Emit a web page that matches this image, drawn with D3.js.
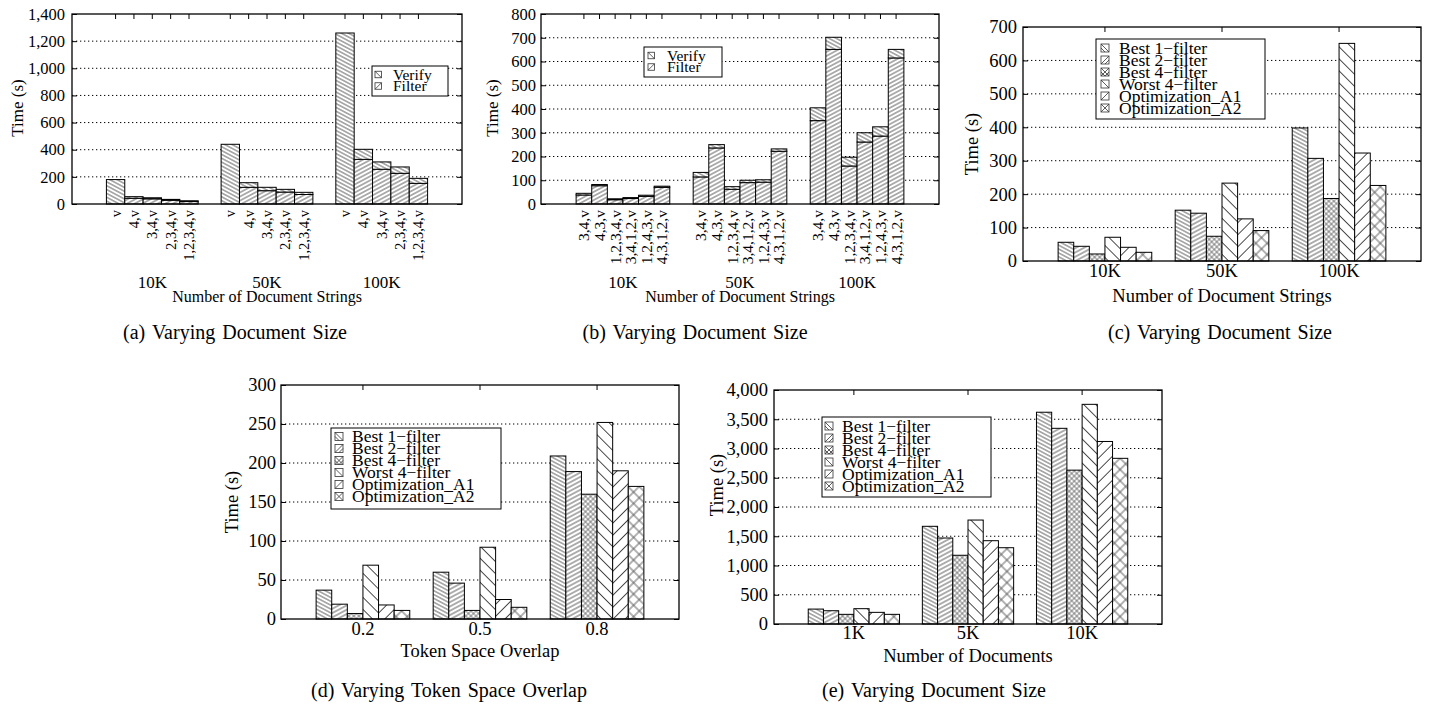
<!DOCTYPE html>
<html><head><meta charset="utf-8">
<script src="https://cdn.jsdelivr.net/npm/d3@7"></script>
<style>
body{margin:0;background:#fff}
svg text{font-family:"Liberation Serif","Times New Roman",serif;fill:#000}
</style>
</head><body>
<svg id="fig" width="1431" height="704"></svg>
<script>
// ---------------- DATA ----------------
// Panel (a)
const aGroups = ["10K", "50K", "100K"];
const aBars = ["v", "4,v", "3,4,v", "2,3,4,v", "1,2,3,4,v"];
const aFilter = [[0, 42, 38, 27, 18], [0, 123, 98, 88, 70], [0, 329, 256, 226, 152]];
const aVerify = [[180, 12, 8, 7, 6], [440, 34, 25, 20, 16], [1260, 74, 54, 47, 37]];
const aTicks = [0, 200, 400, 600, 800, 1000, 1200, 1400];
// Panel (b)
const bGroups = ["10K", "50K", "100K"];
const bBars = ["3,4,v", "4,3,v", "1,2,3,4,v", "3,4,1,2,v", "1,2,4,3,v", "4,3,1,2,v"];
const bFilter = [[38, 77, 18, 23, 32, 70], [114, 236, 62, 90, 92, 222], [351, 651, 160, 261, 286, 615]];
const bVerify = [[7, 5, 4, 4, 5, 5], [19, 14, 11, 10, 10, 10], [54, 51, 37, 39, 39, 36]];
const bTicks = [0, 100, 200, 300, 400, 500, 600, 700, 800];
const stackNames = ["Verify", "Filter"];
// Panels (c)-(e)
const seriesNames = ["Best 1\u2212filter", "Best 2\u2212filter", "Best 4\u2212filter", "Worst 4\u2212filter", "Optimization_A1", "Optimization_A2"];
const cGroups = ["10K", "50K", "100K"];
const cValues = [
  [56, 152, 398],   // Best 1-filter
  [44, 143, 307],   // Best 2-filter
  [21, 74, 187],    // Best 4-filter
  [71, 233, 651],   // Worst 4-filter
  [41, 126, 323],   // Optimization_A1
  [26, 91, 226]     // Optimization_A2
];
const cTicks = [0, 100, 200, 300, 400, 500, 600, 700];
const dGroups = ["0.2", "0.5", "0.8"];
const dValues = [
  [37, 60, 209],
  [19, 46, 189],
  [7, 11, 160],
  [69, 92, 252],
  [18, 25, 190],
  [11, 15, 170]
];
const dTicks = [0, 50, 100, 150, 200, 250, 300];
const eGroups = ["1K", "5K", "10K"];
const eValues = [
  [255, 1670, 3620],
  [227, 1470, 3345],
  [165, 1175, 2630],
  [262, 1777, 3755],
  [199, 1424, 3120],
  [165, 1304, 2832]
];
const eTicks = [0, 500, 1000, 1500, 2000, 2500, 3000, 3500, 4000];

// ---------------- PATTERNS ----------------
const svg = d3.select("#fig");
const defs = svg.append("defs");
function linePattern(id, angle, spacing, color, w) {
  const p = defs.append("pattern").attr("id", id).attr("patternUnits", "userSpaceOnUse")
    .attr("width", 10).attr("height", spacing).attr("patternTransform", `rotate(${angle})`);
  p.append("rect").attr("width", 10).attr("height", spacing).attr("fill", "#fff");
  p.append("line").attr("x1", 0).attr("x2", 10).attr("y1", spacing / 2).attr("y2", spacing / 2)
    .attr("stroke", color).attr("stroke-width", w);
}
function crossPattern(id, spacing, color, w) {
  const p = defs.append("pattern").attr("id", id).attr("patternUnits", "userSpaceOnUse")
    .attr("width", spacing).attr("height", spacing).attr("patternTransform", "rotate(45)");
  p.append("rect").attr("width", spacing).attr("height", spacing).attr("fill", "#fff");
  p.append("line").attr("x1", 0).attr("x2", spacing).attr("y1", spacing / 2).attr("y2", spacing / 2)
    .attr("stroke", color).attr("stroke-width", w);
  p.append("line").attr("y1", 0).attr("y2", spacing).attr("x1", spacing / 2).attr("x2", spacing / 2)
    .attr("stroke", color).attr("stroke-width", w);
}
linePattern("pVerify", 28, 3.4, "#333", 0.8);
linePattern("pFilter", -28, 3.6, "#333", 0.8);
linePattern("p0", 28, 3.4, "#333", 0.8);
linePattern("p1", -28, 3.8, "#333", 0.8);
crossPattern("p2", 3.6, "#555", 0.7);
linePattern("p3", 45, 8.5, "#333", 0.9);
linePattern("p4", -45, 8.5, "#333", 0.9);
crossPattern("p5", 8, "#555", 0.9);
const seriesPat = ["url(#p0)", "url(#p1)", "url(#p2)", "url(#p3)", "url(#p4)", "url(#p5)"];
const stackPat = ["url(#pVerify)", "url(#pFilter)"];
// legend swatch glyph kinds: b = "\", f = "/", x = cross; dense adds an extra line
const seriesSw = [{ k: "b", d: 1 }, { k: "f", d: 1 }, { k: "x", d: 1 }, { k: "b", d: 0 }, { k: "f", d: 0 }, { k: "x", d: 0 }];
const stackSw = [{ k: "b", d: 0 }, { k: "f", d: 0 }];

// ---------------- HELPERS ----------------
function frame(g, c, y, ticks, fmt) {
  g.append("g").selectAll("line").data(ticks.filter(v => v > 0 && v < ticks[ticks.length - 1])).join("line")
    .attr("x1", c.l).attr("x2", c.r).attr("y1", d => y(d)).attr("y2", d => y(d))
    .attr("stroke", "#000").attr("stroke-width", 1).attr("stroke-dasharray", "1.3,2.7");
  const la = g.append("g").attr("transform", `translate(${c.l},0)`)
    .call(d3.axisLeft(y).tickValues(ticks).tickFormat(fmt).tickSizeInner(-5).tickSizeOuter(0).tickPadding(c.pad));
  la.select(".domain").remove();
  la.attr("font-family", null);
  la.selectAll("text").style("font-size", c.tickFont + "px");
  const ra = g.append("g").attr("transform", `translate(${c.r},0)`)
    .call(d3.axisRight(y).tickValues(ticks).tickFormat("").tickSizeInner(-5).tickSizeOuter(0));
  ra.select(".domain").remove();
}
function finish(g, c) {
  g.append("rect").attr("x", c.l).attr("y", c.t).attr("width", c.r - c.l).attr("height", c.b - c.t)
    .attr("fill", "none").attr("stroke", "#000").attr("stroke-width", 1.3);
  g.append("text").attr("transform", `translate(${c.ylx},${c.yly}) rotate(-90)`)
    .attr("text-anchor", "middle").attr("dy", "0.35em").style("font-size", c.ylFont + "px").text("Time (s)");
  g.append("text").attr("x", c.xtx).attr("y", c.xty).attr("text-anchor", "middle")
    .style("font-size", c.xtFont + "px").text(c.xtitle);
  g.append("text").attr("x", c.capx).attr("y", c.capy).attr("text-anchor", "middle")
    .style("font-size", "20px").style("word-spacing", "2px").text(c.caption);
}
function swatch(g, x, y, s, sw) {
  g.append("rect").attr("x", x).attr("y", y).attr("width", s).attr("height", s)
    .attr("fill", "#fff").attr("stroke", "#333").attr("stroke-width", 0.8);
  const ln = (x1, y1, x2, y2) => g.append("line").attr("x1", x1).attr("y1", y1).attr("x2", x2).attr("y2", y2)
    .attr("stroke", "#333").attr("stroke-width", 0.8);
  if (sw.k === "b" || sw.k === "x") { ln(x, y, x + s, y + s); if (sw.d) ln(x, y + s / 2, x + s / 2, y + s); }
  if (sw.k === "f" || sw.k === "x") { ln(x, y + s, x + s, y); if (sw.d) ln(x + s / 2, y + s, x + s, y + s / 2); }
}
function legend(g, lg, names, sws) {
  g.append("rect").attr("x", lg.x0).attr("y", lg.y0).attr("width", lg.x1 - lg.x0).attr("height", lg.y1 - lg.y0)
    .attr("fill", "#fff").attr("stroke", "#000").attr("stroke-width", 1);
  names.forEach((n, i) => {
    const cy = lg.y0 + lg.first + lg.step * i;
    swatch(g, lg.sx, cy - lg.sw / 2, lg.sw, sws[i]);
    g.append("text").attr("x", lg.tx).attr("y", cy).attr("dy", "0.33em").style("font-size", lg.font + "px").text(n);
  });
}

// ---------------- STACKED PANELS (a),(b) ----------------
function stackedPanel(c, groups, bars, filter, verify, ticks, fmt) {
  const g = svg.append("g");
  const x = d3.scaleBand().domain(groups).range([c.l, c.r]).paddingInner(0.2).paddingOuter(0.3);
  const xb = d3.scaleBand().domain(bars).range([0, x.bandwidth()]);
  const y = d3.scaleLinear().domain([0, ticks[ticks.length - 1]]).range([c.b, c.t]);
  frame(g, c, y, ticks, fmt);
  const items = [];
  groups.forEach((gr, gi) => bars.forEach((br, bi) => items.push({ gr, br, f: filter[gi][bi], v: verify[gi][bi] })));
  const cx = d => x(d.gr) + xb(d.br) + xb.bandwidth() / 2;
  g.append("g").selectAll("line").data(items).join("line")
    .attr("x1", cx).attr("x2", cx).attr("y1", c.t).attr("y2", c.t + 5).attr("stroke", "#000");
  const bg = g.append("g");
  items.forEach(d => {
    const x0 = x(d.gr) + xb(d.br);
    if (d.f > 0) bg.append("rect").attr("x", x0).attr("width", xb.bandwidth())
      .attr("y", y(d.f)).attr("height", y(0) - y(d.f)).attr("fill", stackPat[1]).attr("stroke", "#000").attr("stroke-width", 1);
    if (d.v > 0) bg.append("rect").attr("x", x0).attr("width", xb.bandwidth())
      .attr("y", y(d.f + d.v)).attr("height", y(d.f) - y(d.f + d.v)).attr("fill", stackPat[0]).attr("stroke", "#000").attr("stroke-width", 1);
  });
  g.append("g").selectAll("text").data(items).join("text")
    .attr("transform", d => `translate(${cx(d)},${c.b + 6}) rotate(-90)`)
    .attr("text-anchor", "end").attr("dy", "0.35em").style("font-size", c.barFont + "px").text(d => d.br);
  g.append("g").selectAll("text").data(groups).join("text")
    .attr("x", d => x(d) + x.bandwidth() / 2).attr("y", c.grY).attr("text-anchor", "middle")
    .style("font-size", c.grFont + "px").text(d => d);
  legend(g, c.lg, stackNames, stackSw);
  finish(g, c);
}

// ---------------- CLUSTERED PANELS (c),(d),(e) ----------------
function clusterPanel(c, groups, values, ticks, fmt) {
  const g = svg.append("g");
  const x = d3.scaleBand().domain(groups).range([c.l, c.r]).paddingInner(0.2).paddingOuter(0.3);
  const xs = d3.scaleBand().domain(d3.range(seriesNames.length)).range([0, x.bandwidth()]);
  const y = d3.scaleLinear().domain([0, ticks[ticks.length - 1]]).range([c.b, c.t]);
  frame(g, c, y, ticks, fmt);
  const ta = g.append("g").attr("transform", `translate(0,${c.t})`)
    .call(d3.axisTop(x).tickFormat("").tickSizeInner(-5).tickSizeOuter(0));
  ta.select(".domain").remove();
  const items = [];
  values.forEach((vals, si) => vals.forEach((v, gi) => items.push({ si, gr: groups[gi], v })));
  g.append("g").selectAll("rect").data(items).join("rect")
    .attr("x", d => x(d.gr) + xs(d.si)).attr("width", xs.bandwidth())
    .attr("y", d => y(d.v)).attr("height", d => y(0) - y(d.v))
    .attr("fill", d => seriesPat[d.si]).attr("stroke", "#000").attr("stroke-width", 1);
  const ba = g.append("g").attr("transform", `translate(0,${c.b})`)
    .call(d3.axisBottom(x).tickSizeInner(0).tickSizeOuter(0).tickPadding(c.grPad));
  ba.select(".domain").remove();
  ba.attr("font-family", null);
  ba.selectAll("text").style("font-size", c.grFont + "px");
  legend(g, c.lg, seriesNames, seriesSw);
  finish(g, c);
}

const comma = d3.format(",");
const plain = d3.format("d");

stackedPanel({
  l: 72, r: 462, t: 14, b: 204, pad: 7, tickFont: 16.5, barFont: 14.5, grY: 288, grFont: 17,
  ylx: 17, yly: 108, ylFont: 17, xtitle: "Number of Document Strings", xtx: 267, xty: 302, xtFont: 16,
  caption: "(a) Varying Document Size", capx: 235, capy: 339,
  lg: { x0: 372, x1: 448, y0: 66, y1: 96, first: 8.5, step: 11.5, sx: 375, sw: 6.5, tx: 393, font: 15.5 }
}, aGroups, aBars, aFilter, aVerify, aTicks, comma);

stackedPanel({
  l: 541, r: 939, t: 14, b: 204, pad: 5, tickFont: 16.5, barFont: 15.5, grY: 288, grFont: 17,
  ylx: 492, yly: 108, ylFont: 17, xtitle: "Number of Document Strings", xtx: 740, xty: 302, xtFont: 16,
  caption: "(b) Varying Document Size", capx: 695, capy: 339,
  lg: { x0: 644, x1: 722, y0: 47, y1: 77, first: 8.5, step: 11.5, sx: 648, sw: 6.5, tx: 667, font: 15.5 }
}, bGroups, bBars, bFilter, bVerify, bTicks, comma);

clusterPanel({
  l: 1023, r: 1421, t: 27, b: 261, pad: 6, tickFont: 18.5, grPad: 3, grFont: 18.5,
  ylx: 972, yly: 144, ylFont: 18.5, xtitle: "Number of Document Strings", xtx: 1222, xty: 302, xtFont: 18.5,
  caption: "(c) Varying Document Size", capx: 1220, capy: 339,
  lg: { x0: 1096, x1: 1265, y0: 39, y1: 119, first: 9, step: 12, sx: 1101, sw: 8, tx: 1119, font: 17.5 }
}, cGroups, cValues, cTicks, plain);

clusterPanel({
  l: 281, r: 679, t: 385, b: 619, pad: 5, tickFont: 18.5, grPad: 2.5, grFont: 18.5,
  ylx: 232, yly: 502, ylFont: 18.5, xtitle: "Token Space Overlap", xtx: 480, xty: 657, xtFont: 18.5,
  caption: "(d) Varying Token Space Overlap", capx: 449, capy: 697,
  lg: { x0: 331, x1: 501, y0: 428, y1: 509, first: 8.5, step: 12, sx: 335, sw: 8, tx: 352, font: 17.5 }
}, dGroups, dValues, dTicks, plain);

clusterPanel({
  l: 774, r: 1162, t: 390, b: 624, pad: 6, tickFont: 18.5, grPad: 2, grFont: 18.5,
  ylx: 717, yly: 485, ylFont: 18.5, xtitle: "Number of Documents", xtx: 968, xty: 662, xtFont: 18.5,
  caption: "(e) Varying Document Size", capx: 934, capy: 697,
  lg: { x0: 822, x1: 991, y0: 417, y1: 497, first: 9, step: 12, sx: 825, sw: 8, tx: 842, font: 17.5 }
}, eGroups, eValues, eTicks, comma);
</script>
</body></html>
